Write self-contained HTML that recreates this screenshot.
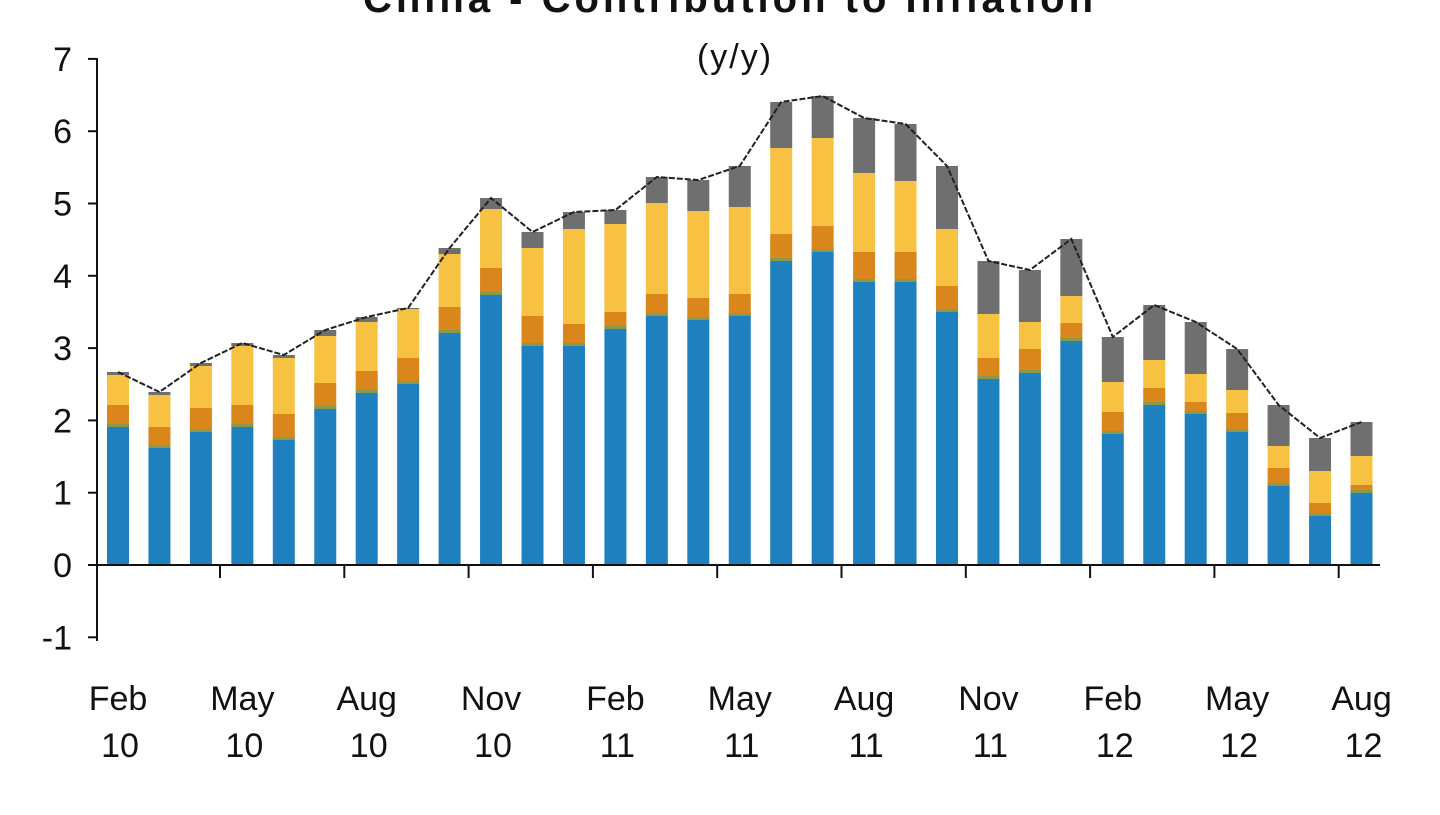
<!DOCTYPE html>
<html><head><meta charset="utf-8"><style>
html,body{margin:0;padding:0;background:#fff;}
svg text{font-family:"Liberation Sans",sans-serif;fill:#111;}
</style></head><body>
<svg width="1440" height="810" viewBox="0 0 1440 810" xmlns="http://www.w3.org/2000/svg">
<text x="730" y="12" font-size="40" font-weight="bold" text-anchor="middle" letter-spacing="4">China - Contribution to Inflation</text>
<text x="735" y="68" font-size="34" text-anchor="middle" letter-spacing="2">(y/y)</text>
<g id="bars"></g>
<polyline id="ln" fill="none" stroke="#222" stroke-width="2" stroke-dasharray="6,2"/>
<line x1="97" y1="58" x2="97" y2="641" stroke="#111" stroke-width="2"/>
<line x1="97" y1="565" x2="1380" y2="565" stroke="#111" stroke-width="2"/>
<g id="ax" stroke="#111" stroke-width="2"></g>
<g font-size="34" text-anchor="end" id="yl"></g>
<g font-size="34" text-anchor="middle" id="xl"></g>
</svg>
<script>
var ns="http://www.w3.org/2000/svg";
function el(t,a,p){var e=document.createElementNS(ns,t);for(var k in a)e.setAttribute(k,a[k]);p.appendChild(e);return e;}
var d=[[427,405,375,372],[448,427,395,392],[432,408,366,363],[427,405,346,343],[440,414,358,355],[409,383,336,330],[393,371,322,317],[384,358,309,308],[333,307,254,248],[295,268,209,198],[346,316,248,232],[346,324,229,212],[329,312,224,210],[316,294,203,177],[320,298,211,180],[316,294,207,166],[261,234,148,102],[252,226,138,96],[282,252,173,118],[282,252,181,124],[312,286,229,166],[379,358,314,261],[373,349,322,270],[341,323,296,239],[434,412,382,337],[405,388,360,305],[414,402,374,322],[432,413,390,349],[486,468,446,405],[516,503,471,438],[493,485,456,422]];
var g=document.getElementById('bars'),pts=[];
d.forEach(function(b,i){var cx=118+41.45*i,x=cx-11,w=22;
el('rect',{x:x,y:b[0],width:w,height:565-b[0],fill:'#1f80bf'},g);
el('rect',{x:x,y:b[1],width:w,height:b[0]-b[1],fill:'#d9861c'},g);
el('rect',{x:x,y:b[0]-3,width:w,height:3,fill:'#8a9a4a'},g);
el('rect',{x:x,y:b[2],width:w,height:b[1]-b[2],fill:'#f7c242'},g);
el('rect',{x:x,y:b[3],width:w,height:b[2]-b[3],fill:'#6f6f6f'},g);
pts.push(cx+','+b[3]);});
document.getElementById('ln').setAttribute('points',pts.join(' '));
var ax=document.getElementById('ax'),yl=document.getElementById('yl'),xl=document.getElementById('xl');
for(var v=-1;v<=7;v++){var y=565-v*72.3;el('line',{x1:88,y1:y,x2:97,y2:y},ax);var t=el('text',{x:72,y:y+12},yl);t.textContent=v;}
for(var k=0;k<10;k++){var x=220+124.3*k;el('line',{x1:x,y1:565,x2:x,y2:578},ax);}
var m=["Feb","May","Aug","Nov","Feb","May","Aug","Nov","Feb","May","Aug"],yr=["10","10","10","10","11","11","11","11","12","12","12"];
for(var k=0;k<11;k++){var x=118+124.35*k;var t=el('text',{x:x,y:710},xl);t.textContent=m[k];var t2=el('text',{x:x+2,y:757},xl);t2.textContent=yr[k];}
</script>
</body></html>
